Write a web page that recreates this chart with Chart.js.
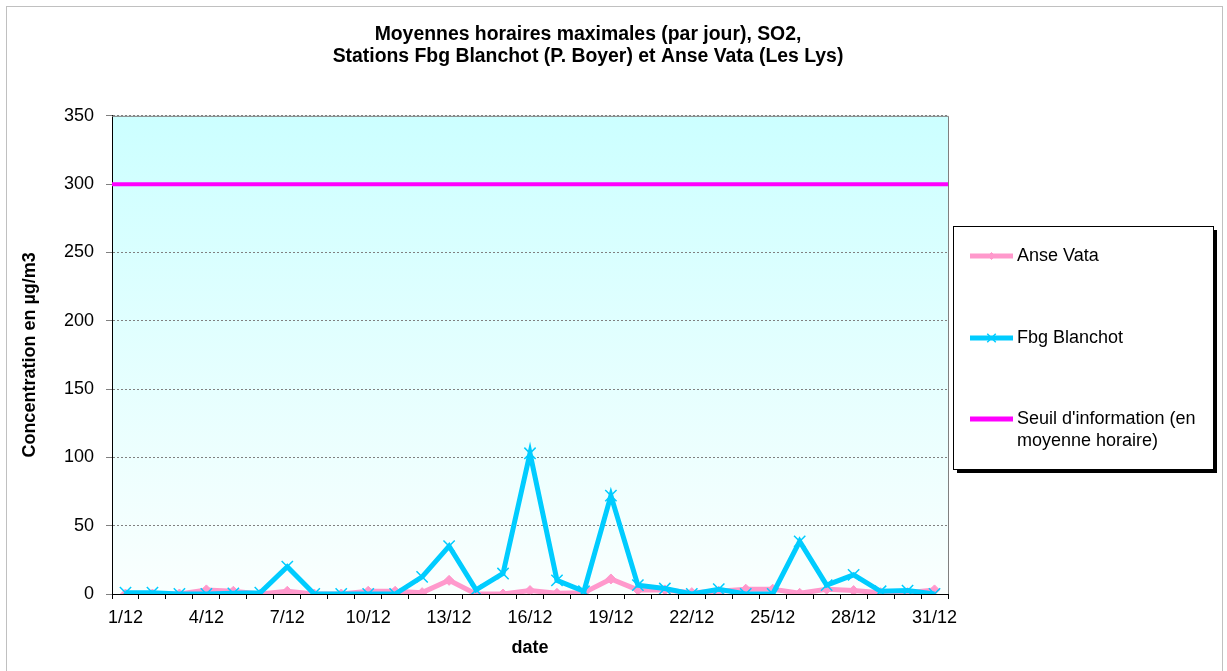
<!DOCTYPE html>
<html lang="fr">
<head>
    <meta charset="UTF-8">
    <title>SO2 - Fbg Blanchot / Anse Vata</title>
    <script src="https://cdn.jsdelivr.net/npm/chart.js"></script>
    <style>
        html, body { margin: 0; padding: 0; background: #ffffff; }
        #wrap { width: 1227px; height: 671px; position: relative; }
    </style>
</head>
<body>
<div id="wrap"><canvas id="chart"></canvas></div>
<script>
    // categories (days of December)
    const days = [];
    for (let d = 1; d <= 31; d++) days.push(d + '/12');

    // values (µg/m3)
    const anseVata = [0, 0, 0, 3, 2, 0, 2, 0, 0, 2, 2, 1, 10, 0, 0, 2.5,
                      0.5, 1, 11, 3, 3, 1, 2, 3.5, 3.5, 0.5, 3.5, 2.5, 1, 1, 3];
    const fbgBlanchot = [1, 1, 0, 0, 0.5, 1, 20, 0, 0, 0, 0, 12.5, 35, 3, 15, 103,
                         10, 2, 72, 6.5, 4, 0, 3.5, 0, 0, 38.5, 6.5, 14, 2, 2.5, 0];
    // information threshold, drawn across the whole plot width
    const seuilValue = 300;
    const seuilSpan = [0, 1];

    const seriesNames = ['Anse Vata', 'Fbg Blanchot', "Seuil d'information (en moyenne horaire)"];
    const yTicks = [0, 50, 100, 150, 200, 250, 300, 350];

    const FONT = "Arial, 'Liberation Sans', sans-serif";

    // background, outer frame and plot gradient
    const backgroundPlugin = {
        id: 'background',
        beforeDraw(chart) {
            const ctx = chart.ctx;
            const a = chart.chartArea;
            ctx.save();
            ctx.fillStyle = '#ffffff';
            ctx.fillRect(0, 0, chart.width, chart.height);
            ctx.strokeStyle = '#c0c0c0';
            ctx.lineWidth = 1;
            ctx.strokeRect(6.5, 6.5, 1216, 680);
            const g = ctx.createLinearGradient(0, a.top, 0, a.bottom);
            g.addColorStop(0, '#ccffff');
            g.addColorStop(1, '#fafffe');
            ctx.fillStyle = g;
            ctx.fillRect(a.left, a.top, a.right - a.left, a.bottom - a.top);
            ctx.restore();
        },
        beforeDatasetsDraw(chart) {
            const ctx = chart.ctx;
            const a = chart.chartArea;
            ctx.save();
            ctx.strokeStyle = '#808080';
            ctx.lineWidth = 1;
            ctx.beginPath();
            ctx.moveTo(a.left, a.top + 0.5);
            ctx.lineTo(a.right + 0.5, a.top + 0.5);
            ctx.lineTo(a.right + 0.5, a.bottom);
            ctx.stroke();
            ctx.restore();
        }
    };

    // legend box on the right, drawn like the spreadsheet one
    const boxLegendPlugin = {
        id: 'boxLegend',
        afterDraw(chart) {
            const ctx = chart.ctx;
            const x0 = 953, y0 = 226, w = 260, h = 243;
            ctx.save();
            ctx.fillStyle = '#000000';
            ctx.fillRect(x0 + 4, y0 + 4, w, h);
            ctx.fillStyle = '#ffffff';
            ctx.fillRect(x0, y0, w, h);
            ctx.strokeStyle = '#000000';
            ctx.lineWidth = 1;
            ctx.strokeRect(x0 + 0.5, y0 + 0.5, w, h);

            ctx.font = '18px ' + FONT;
            ctx.textBaseline = 'middle';
            ctx.textAlign = 'left';
            const rows = [256, 338, 419];
            chart.data.datasets.forEach((ds, i) => {
                const y = rows[i];
                ctx.strokeStyle = ds.borderColor;
                ctx.lineWidth = 5;
                ctx.beginPath();
                ctx.moveTo(970, y);
                ctx.lineTo(1013, y);
                ctx.stroke();
                if (ds.pointRadius > 0) {
                    ctx.fillStyle = ds.pointBackgroundColor;
                    ctx.strokeStyle = ds.pointBorderColor;
                    ctx.lineWidth = ds.pointBorderWidth;
                    Chart.helpers.drawPoint(ctx, {
                        pointStyle: ds.pointStyle,
                        radius: ds.pointStyle === 'rectRot' ? 3.5 : 6,
                        borderWidth: ds.pointBorderWidth
                    }, 991.5, y);
                }
                // simple word wrap
                const words = ds.label.split(' ');
                const lines = [];
                let cur = '';
                words.forEach(word => {
                    const t = cur ? cur + ' ' + word : word;
                    if (ctx.measureText(t).width > 190 && cur) {
                        lines.push(cur);
                        cur = word;
                    } else {
                        cur = t;
                    }
                });
                lines.push(cur);
                ctx.fillStyle = '#000000';
                lines.forEach((ln, k) => ctx.fillText(ln, 1017, y + k * 22));
            });
            ctx.restore();
        }
    };

    new Chart(document.getElementById('chart'), {
        type: 'line',
        data: {
            labels: days,
            datasets: [
                {
                    label: seriesNames[0],
                    data: anseVata,
                    borderColor: '#ff99cc',
                    backgroundColor: '#ff99cc',
                    borderWidth: 5,
                    pointStyle: 'rectRot',
                    pointRadius: 5,
                    pointBackgroundColor: '#ff99cc',
                    pointBorderColor: '#ff99cc',
                    pointBorderWidth: 1,
                    tension: 0,
                    order: 2
                },
                {
                    label: seriesNames[1],
                    data: fbgBlanchot,
                    borderColor: '#00ccff',
                    backgroundColor: '#00ccff',
                    borderWidth: 5,
                    pointStyle: 'crossRot',
                    pointRadius: 8,
                    pointBackgroundColor: '#00ccff',
                    pointBorderColor: '#00ccff',
                    pointBorderWidth: 1.5,
                    tension: 0,
                    order: 1
                },
                {
                    label: seriesNames[2],
                    data: seuilSpan.map(x => ({ x: x, y: seuilValue })),
                    xAxisID: 'xSpan',
                    borderColor: '#ff00ff',
                    backgroundColor: '#ff00ff',
                    borderWidth: 4,
                    pointRadius: 0,
                    tension: 0,
                    order: 3
                }
            ]
        },
        options: {
            responsive: true,
            maintainAspectRatio: false,
            animation: false,
            events: [],
            layout: { padding: { left: 0, right: 51, top: 0, bottom: 0 } },
            plugins: {
                legend: { display: false },
                tooltip: { enabled: false },
                title: {
                    display: true,
                    text: ['Moyennes horaires maximales (par jour), SO2,',
                           'Stations Fbg Blanchot (P. Boyer) et Anse Vata (Les Lys)'],
                    color: '#000000',
                    font: { family: FONT, size: 19.4, weight: 'bold', lineHeight: 1.13 },
                    padding: { top: 24, bottom: 48 }
                }
            },
            scales: {
                x: {
                    type: 'category',
                    offset: true,
                    afterFit(scale) { scale.height = 77; },
                    grid: {
                        display: true,
                        offset: true,
                        drawOnChartArea: false,
                        drawTicks: true,
                        tickLength: 5,
                        tickColor: '#000000'
                    },
                    border: { display: true, color: '#000000', width: 1 },
                    ticks: {
                        autoSkip: false,
                        maxRotation: 0,
                        padding: 8,
                        color: '#000000',
                        font: { family: FONT, size: 18 },
                        callback(value, index) {
                            return index % 3 === 0 ? days[index] : '';
                        }
                    },
                    title: {
                        display: true,
                        text: 'date',
                        color: '#000000',
                        font: { family: FONT, size: 18, weight: 'bold' },
                        padding: { top: 0, bottom: 12 }
                    }
                },
                xSpan: {
                    type: 'linear',
                    position: 'bottom',
                    display: false,
                    min: 0,
                    max: 1
                },
                y: {
                    position: 'left',
                    min: 0,
                    max: 350,
                    afterFit(scale) { scale.width = 112; },
                    afterBuildTicks(scale) {
                        scale.ticks = yTicks.map(v => ({ value: v }));
                    },
                    grid: {
                        display: true,
                        color: '#808080',
                        lineWidth: 1,
                        drawTicks: true,
                        tickLength: 6,
                        tickColor: '#808080'
                    },
                    border: { display: true, color: '#000000', width: 1, dash: [2, 2] },
                    ticks: {
                        padding: 12,
                        color: '#000000',
                        font: { family: FONT, size: 18 }
                    },
                    title: {
                        display: true,
                        text: 'Concentration en µg/m3',
                        color: '#000000',
                        font: { family: FONT, size: 18, weight: 'bold' },
                        padding: { top: 19, bottom: 0 }
                    }
                },
                spacer: {
                    type: 'linear',
                    position: 'right',
                    display: true,
                    afterFit(scale) { scale.width = 228; },
                    grid: { display: false, drawTicks: false },
                    border: { display: false },
                    ticks: { display: false }
                }
            }
        },
        plugins: [backgroundPlugin, boxLegendPlugin]
    });
</script>
</body>
</html>
